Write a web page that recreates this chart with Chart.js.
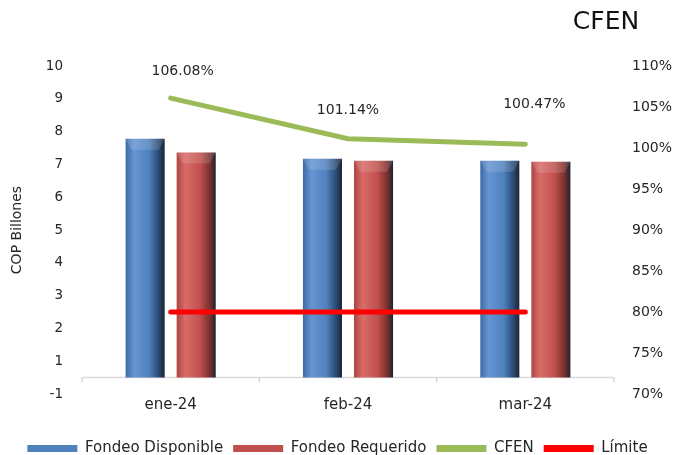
<!DOCTYPE html>
<html>
<head>
<meta charset="utf-8">
<script src="https://cdn.jsdelivr.net/npm/chart.js@4/dist/chart.umd.min.js"></script>
<style>
  html, body { margin: 0; padding: 0; background: #fff; overflow: hidden; }
  #wrap { position: relative; width: 675px; height: 466px; }
</style>
</head>
<body>
<div id="wrap"><canvas id="chart"></canvas></div>
<script>
const months = ['ene-24', 'feb-24', 'mar-24'];
const fondeoDisponible = [7.78, 7.17, 7.11];
const fondeoRequerido = [7.36, 7.11, 7.08];
const cfen = [106.08, 101.14, 100.47];
const limite = [80, 80, 80];
const leftTicks = ['-1', '1', '2', '3', '4', '5', '6', '7', '8', '9', '10'];
const axisCross = 0.5;

// where each CFEN value label sits relative to its point (dx, dy)
const cfenLabelShift = [[12, -27], [0, -28], [9, -40]];

const FONT = 'DejaVu Sans';
const TEXT = '#262626';
const CAT_PCT = 0.576;
const BAR_PCT = 0.765;

function barFill(edge, light, body, dark) {
  return (c) => {
    const chart = c.chart;
    const x = chart.scales.x;
    if (c.dataIndex === undefined || !x || !chart.chartArea) return body;
    const slot = (x.width / months.length) * CAT_PCT / 2;
    const center = x.getPixelForValue(c.dataIndex) + (c.datasetIndex === 0 ? -slot / 2 : slot / 2);
    const w = slot * BAR_PCT;
    const g = chart.ctx.createLinearGradient(center - w / 2, 0, center + w / 2, 0);
    g.addColorStop(0, edge);
    g.addColorStop(0.22, light);
    g.addColorStop(0.6, body);
    g.addColorStop(0.85, dark);
    g.addColorStop(1, '#1a2433');
    return g;
  };
}

const decor = {
  id: 'decor',
  beforeDatasetsDraw(chart) {
    const { ctx, chartArea } = chart;
    const xs = chart.scales.x;
    const y = chart.scales.y.getPixelForValue(axisCross);
    const edges = [chartArea.left, chartArea.right];
    for (let i = 1; i < months.length; i++) {
      edges.push((xs.getPixelForValue(i - 1) + xs.getPixelForValue(i)) / 2);
    }
    ctx.save();
    ctx.strokeStyle = '#d9d9d9';
    ctx.lineWidth = 1.5;
    ctx.beginPath();
    ctx.moveTo(chartArea.left, y);
    ctx.lineTo(chartArea.right, y);
    edges.forEach(e => { ctx.moveTo(e, y); ctx.lineTo(e, y + 5); });
    ctx.stroke();
    ctx.restore();
  },
  afterDatasetsDraw(chart) {
    const { ctx } = chart;
    ctx.save();
    // bevel on bar tops
    [0, 1].forEach(d => {
      chart.getDatasetMeta(d).data.forEach(bar => {
        const w = bar.width / 2;
        ctx.fillStyle = 'rgba(255,255,255,0.14)';
        ctx.beginPath();
        ctx.moveTo(bar.x - w, bar.y);
        ctx.lineTo(bar.x + w, bar.y);
        ctx.lineTo(bar.x + w - 6, bar.y + 11);
        ctx.lineTo(bar.x - w + 6, bar.y + 11);
        ctx.closePath();
        ctx.fill();
      });
    });
    // CFEN value labels
    ctx.font = '14px "' + FONT + '"';
    ctx.fillStyle = TEXT;
    ctx.textAlign = 'center';
    ctx.textBaseline = 'middle';
    chart.getDatasetMeta(2).data.forEach((pt, i) => {
      ctx.fillText(cfen[i].toFixed(2) + '%', pt.x + cfenLabelShift[i][0], pt.y + cfenLabelShift[i][1]);
    });
    ctx.restore();
  },
  afterDraw(chart) {
    const { ctx } = chart;
    ctx.save();
    ctx.font = '25px "' + FONT + '"';
    ctx.fillStyle = '#111';
    ctx.textAlign = 'center';
    ctx.textBaseline = 'middle';
    ctx.fillText('CFEN', 606, 22);
    ctx.restore();
  }
};

new Chart(document.getElementById('chart'), {
  type: 'bar',
  data: {
    labels: months,
    datasets: [
      {
        label: 'Fondeo Disponible',
        data: fondeoDisponible,
        yAxisID: 'y',
        base: axisCross,
        backgroundColor: barFill('#3f6ba3', '#6595d3', '#4f81bd', '#2a4a73'),
        borderColor: '#4F81BD',
        borderWidth: 0,
        categoryPercentage: CAT_PCT,
        barPercentage: BAR_PCT,
        order: 2
      },
      {
        label: 'Fondeo Requerido',
        data: fondeoRequerido,
        yAxisID: 'y',
        base: axisCross,
        backgroundColor: barFill('#ad4542', '#d86b68', '#c0504d', '#7a2f2d'),
        borderColor: '#C0504D',
        borderWidth: 0,
        categoryPercentage: CAT_PCT,
        barPercentage: BAR_PCT,
        order: 2
      },
      {
        type: 'line',
        label: 'CFEN',
        data: cfen,
        yAxisID: 'y1',
        borderColor: '#9BBB59',
        backgroundColor: '#9BBB59',
        borderWidth: 5,
        borderCapStyle: 'round',
        pointRadius: 0,
        tension: 0,
        order: 1
      },
      {
        type: 'line',
        label: 'Límite',
        data: limite,
        yAxisID: 'y1',
        borderColor: '#FF0000',
        backgroundColor: '#FF0000',
        borderWidth: 5,
        borderCapStyle: 'round',
        pointRadius: 0,
        tension: 0,
        order: 1
      }
    ]
  },
  options: {
    responsive: true,
    maintainAspectRatio: false,
    animation: false,
    devicePixelRatio: 1,
    layout: { padding: { top: 66, left: 0, right: 0, bottom: 0 } },
    scales: {
      x: {
        offset: true,
        grid: { display: false },
        border: { display: false },
        ticks: { color: TEXT, font: { family: FONT, size: 15, lineHeight: 1 }, padding: -4, maxRotation: 0 },
        afterFit: s => { s.height = 37; }
      },
      y: {
        position: 'left',
        min: 0,
        max: 10,
        grid: { display: false, drawTicks: false },
        border: { display: false },
        ticks: {
          stepSize: 1,
          padding: 19,
          color: TEXT,
          font: { family: FONT, size: 13.5 },
          callback: v => leftTicks[Math.round(v)]
        },
        title: {
          display: true,
          text: 'COP Billones',
          color: TEXT,
          font: { family: FONT, size: 14 },
          padding: { top: 9, bottom: 0 }
        },
        afterFit: s => { s.width = 82; }
      },
      y1: {
        position: 'right',
        min: 70,
        max: 110,
        grid: { display: false, drawTicks: false },
        border: { display: false },
        ticks: {
          stepSize: 5,
          padding: 18,
          color: TEXT,
          font: { family: FONT, size: 14 },
          callback: v => v + '%'
        },
        afterFit: s => { s.width = 61; }
      }
    },
    plugins: {
      legend: {
        position: 'bottom',
        labels: {
          color: TEXT,
          font: { family: FONT, size: 15 },
          boxWidth: 50,
          boxHeight: 7,
          padding: 10,
          sort: (a, b) => a.datasetIndex - b.datasetIndex,
          generateLabels(chart) {
            return Chart.defaults.plugins.legend.labels.generateLabels(chart).map(it => {
              const c = chart.data.datasets[it.datasetIndex].borderColor;
              return { ...it, fillStyle: c, strokeStyle: c, lineWidth: 0 };
            });
          }
        }
      },
      tooltip: { enabled: false }
    }
  },
  plugins: [decor]
});
</script>
</body>
</html>
